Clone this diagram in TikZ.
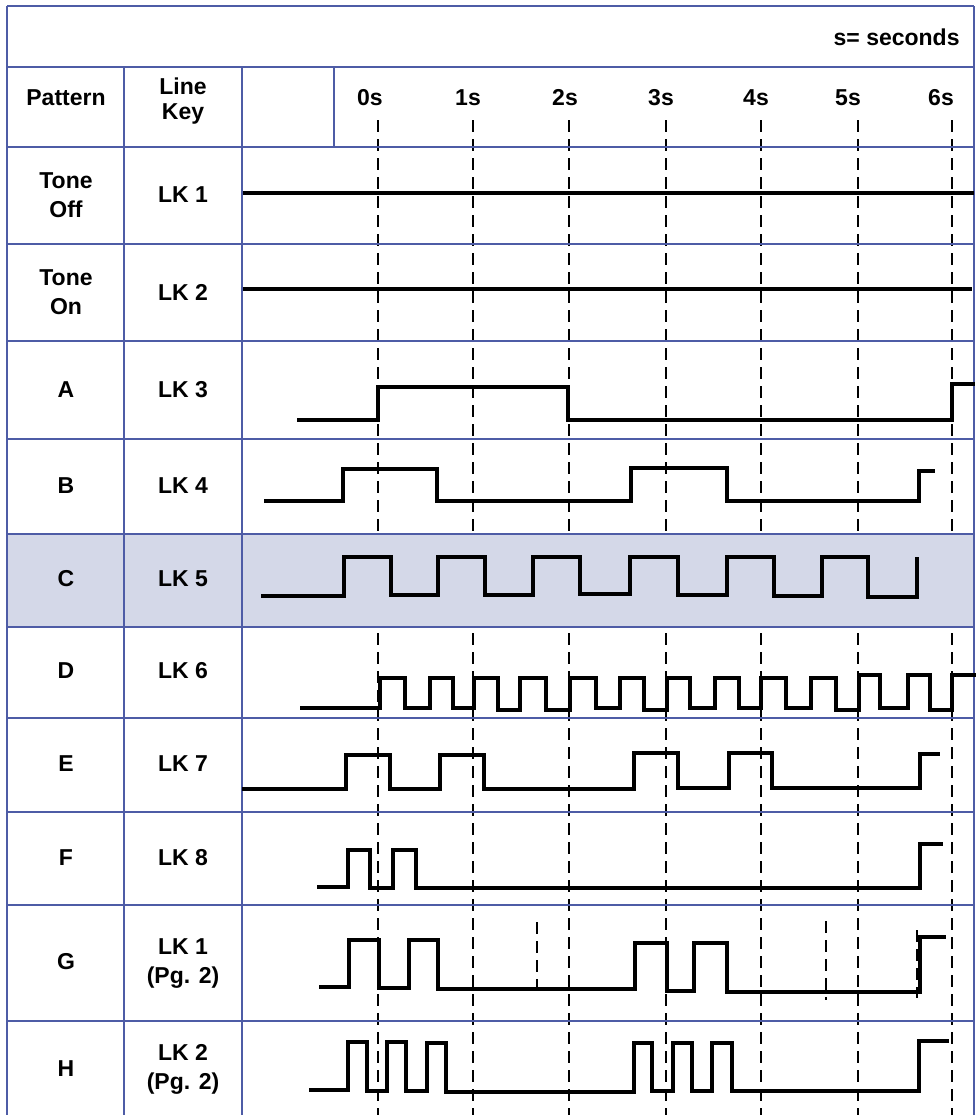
\documentclass[tikz,border=0pt]{standalone}
\usepackage{fontspec}
\setmainfont{Liberation Sans}
\definecolor{gridblue}{RGB}{78,92,166}
\definecolor{rowc}{RGB}{212,216,232}
\begin{document}
\begin{tikzpicture}[x=0.5pt,y=-0.5pt,
  gridline/.style={draw=gridblue,line width=0.7pt},
  thickgrid/.style={draw=gridblue,line width=1.3pt},
  wave/.style={line width=1.65pt,line join=miter},
  tickline/.style={line width=1.1pt,dash pattern=on 6pt off 3.5pt},
  lbl/.style={font=\fontsize{11.5}{14.5}\selectfont\bfseries,align=center,inner sep=0pt}]
\useasboundingbox (0,0) rectangle (976,1115);
% dashed second markers
\foreach \x in {378,473,569,666,761,858,952}
  \draw[tickline] (\x,120) -- (\x,1115);
% extra dashed marks in row G
\draw[tickline] (537,922) -- (537,994);
\draw[tickline] (826,921) -- (826,1000);
\draw[tickline] (917,930) -- (917,998);
% highlighted row C
\fill[rowc] (7,534) rectangle (974,627);
% grid
\draw[gridline] (7,6) -- (974,6);
\draw[gridline] (7,6) -- (7,1115);
\draw[gridline] (974,6) -- (974,1115);
\draw[gridline] (7,67) -- (974,67);
\foreach \y in {147,244,341,439,534,627,718,812,905,1021}
  \draw[gridline] (7,\y) -- (974,\y);
\draw[gridline] (124,67) -- (124,1115);
\draw[gridline] (242,67) -- (242,1115);
\draw[gridline] (334,67) -- (334,147);
\draw[thickgrid] (334,67) -- (974,67) -- (974,147);
% header texts
\node[lbl,anchor=east] (unit) at (960,37) {s= seconds};
\node[lbl] (hpat) at (66,98) {Pattern};
\node[lbl,font=\fontsize{11.5}{12.8}\selectfont\bfseries] (hkey) at (183,101) {Line\\Key};
\node[lbl] (t0) at (370,98) {0s};
\node[lbl] (t1) at (468,98) {1s};
\node[lbl] (t2) at (565,98) {2s};
\node[lbl] (t3) at (661,98) {3s};
\node[lbl] (t4) at (756,98) {4s};
\node[lbl] (t5) at (848,98) {5s};
\node[lbl] (t6) at (941,98) {6s};
% row labels
\node[lbl] (p1) at (66,195) {Tone\\Off};
\node[lbl] (k1) at (183,195) {LK 1};
\node[lbl] (p2) at (66,292) {Tone\\On};
\node[lbl] (k2) at (183,292) {LK 2};
\node[lbl] (p3) at (66,390) {A};
\node[lbl] (k3) at (183,390) {LK 3};
\node[lbl] (p4) at (66,486) {B};
\node[lbl] (k4) at (183,486) {LK 4};
\node[lbl] (p5) at (66,579) {C};
\node[lbl] (k5) at (183,579) {LK 5};
\node[lbl] (p6) at (66,671) {D};
\node[lbl] (k6) at (183,671) {LK 6};
\node[lbl] (p7) at (66,764) {E};
\node[lbl] (k7) at (183,764) {LK 7};
\node[lbl] (p8) at (66,858) {F};
\node[lbl] (k8) at (183,858) {LK 8};
\node[lbl] (p9) at (66,962) {G};
\node[lbl] (k9) at (183,964) {LK 1\\(Pg. 2)};
\node[lbl] (p10) at (66,1069) {H};
\node[lbl] (k10) at (183,1069) {LK 2\\(Pg. 2)};
% waveforms
\draw[wave] (243,193) -- (974,193);
\draw[wave] (243,289) -- (972,289);
\draw[wave] (297,420) -- (378,420) -- (378,387) -- (568,387) -- (568,420) -- (952,420) -- (952,384) -- (975,384);
\draw[wave] (264,501) -- (343,501) -- (343,469) -- (437,469) -- (437,501) -- (631,501) -- (631,468) -- (727,468) -- (727,501) -- (919,501) -- (919,471) -- (935,471);
\draw[wave] (261,596) -- (344,596) -- (344,557) -- (391,557) -- (391,595) -- (438,595) -- (438,557) -- (485,557) -- (485,595) -- (533,595) -- (533,557) -- (580,557) -- (580,594) -- (630,594) -- (630,557) -- (678,557) -- (678,595) -- (727,595) -- (727,557) -- (774,557) -- (774,596) -- (822,596) -- (822,557) -- (868,557) -- (868,597) -- (917,597) -- (917,557);
\draw[wave] (300,708) -- (380,708) -- (380,678) -- (405,678) -- (405,708) -- (430,708) -- (430,678) -- (453,678) -- (453,708) -- (474,708) -- (474,678) -- (498,678) -- (498,710) -- (520,710) -- (520,678) -- (546,678) -- (546,710) -- (570,710) -- (570,678) -- (596,678) -- (596,708) -- (620,708) -- (620,678) -- (644,678) -- (644,710) -- (667,710) -- (667,678) -- (690,678) -- (690,708) -- (715,708) -- (715,678) -- (739,678) -- (739,708) -- (761,708) -- (761,678) -- (786,678) -- (786,708) -- (811,708) -- (811,678) -- (836,678) -- (836,710) -- (859,710) -- (859,675) -- (880,675) -- (880,708) -- (908,708) -- (908,675) -- (930,675) -- (930,710) -- (952,710) -- (952,675) -- (976,675);
\draw[wave] (242,789) -- (346,789) -- (346,755) -- (390,755) -- (390,789) -- (440,789) -- (440,755) -- (484,755) -- (484,789) -- (634,789) -- (634,753) -- (678,753) -- (678,788) -- (729,788) -- (729,753) -- (772,753) -- (772,788) -- (920,788) -- (920,754) -- (940,754);
\draw[wave] (317,887) -- (348,887) -- (348,850) -- (370,850) -- (370,888) -- (393,888) -- (393,850) -- (416,850) -- (416,888) -- (920,888) -- (920,844) -- (943,844);
\draw[wave] (319,987) -- (349,987) -- (349,940) -- (379,940) -- (379,988) -- (409,988) -- (409,940) -- (438,940) -- (438,989) -- (635,989) -- (635,943) -- (667,943) -- (667,991) -- (694,991) -- (694,943) -- (727,943) -- (727,992) -- (920,992) -- (920,937) -- (946,937);
\draw[wave] (309,1090) -- (348,1090) -- (348,1042) -- (367,1042) -- (367,1091) -- (387,1091) -- (387,1042) -- (406,1042) -- (406,1091) -- (427,1091) -- (427,1043) -- (446,1043) -- (446,1092) -- (634,1092) -- (634,1043) -- (652,1043) -- (652,1091) -- (673,1091) -- (673,1043) -- (692,1043) -- (692,1091) -- (712,1091) -- (712,1043) -- (732,1043) -- (732,1091) -- (919,1091) -- (919,1041) -- (949,1041);
\end{tikzpicture}
\end{document}
